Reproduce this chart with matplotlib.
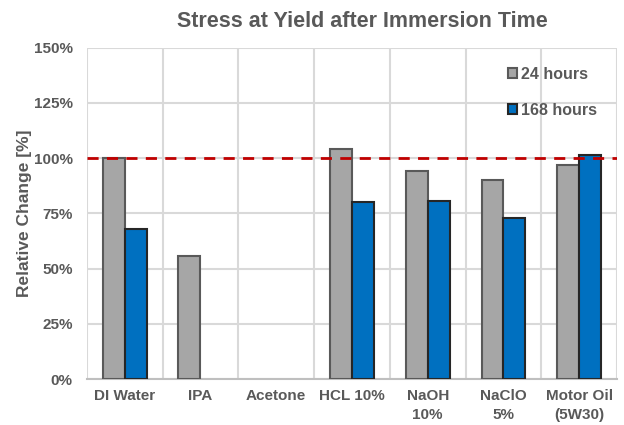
import numpy as np
import matplotlib
matplotlib.use("Agg")
import matplotlib.pyplot as plt
from matplotlib.ticker import FuncFormatter, MultipleLocator

plt.rcParams['font.family'] = ['Liberation Sans', 'DejaVu Sans']

categories = ["DI Water", "IPA", "Acetone", "HCL 10%", "NaOH\n10%", "NaClO\n5%", "Motor Oil\n(5W30)"]
hours_24 = [100.0, 55.6, np.nan, 104.0, 94.2, 90.0, 97.0]
hours_168 = [67.7, np.nan, np.nan, 80.1, 80.4, 73.0, 101.2]
series_labels = ["24 hours", "168 hours"]
reference_level = 100.0

txt = "#595959"
fig = plt.figure(figsize=(6.24, 4.25), dpi=100)
ax = fig.add_axes([0.139, 0.108, 0.85, 0.78])

x = np.arange(len(categories))
w = 0.29
ax.bar(x - w/2, hours_24, w, color="#a6a6a6", edgecolor="#595959", linewidth=1.5,
       label=series_labels[0], zorder=3)
ax.bar(x + w/2, hours_168, w, color="#0070c0", edgecolor="#262626", linewidth=1.5,
       label=series_labels[1], zorder=3)
ax.axhline(reference_level, color="#c00000", linestyle=(0, (4, 3)), linewidth=2, zorder=4)

ax.set_xlim(-0.5, len(categories) - 0.5)
ax.set_ylim(0, 150)
ax.yaxis.set_major_locator(MultipleLocator(25))
ax.yaxis.set_major_formatter(FuncFormatter(lambda v, p: f"{v:.0f}%"))
ax.set_xticks(x)
ax.set_xticklabels(categories, linespacing=1.45)
ax.set_xticks(np.arange(len(categories) + 1) - 0.5, minor=True)
ax.grid(True, axis="y", which="major", color="#d9d9d9", linewidth=1.5, zorder=0)
ax.grid(True, axis="x", which="minor", color="#d9d9d9", linewidth=1.5, zorder=0)
ax.grid(False, axis="x", which="major")
ax.tick_params(axis="both", which="both", length=0, labelcolor=txt, labelsize=11)
ax.tick_params(axis="x", pad=7)
ax.tick_params(axis="y", pad=10)
for lab in ax.get_xticklabels() + ax.get_yticklabels():
    lab.set_fontweight("bold")
for s in ["top", "right", "left"]:
    ax.spines[s].set_visible(False)
ax.spines["bottom"].set_color("#bfbfbf")
ax.spines["bottom"].set_linewidth(1.5)

ax.set_ylabel("Relative Change [%]", color=txt, fontsize=12.5, fontweight="bold", labelpad=1)
fig.text(0.58, 0.95, "Stress at Yield after Immersion Time", ha="center", va="center",
         color=txt, fontsize=15.5, fontweight="bold")

leg = ax.legend(loc="upper right", bbox_to_anchor=(0.99, 0.985), frameon=False,
                handlelength=0.6, handleheight=0.6, handletextpad=0.25,
                labelspacing=1.3, prop={"weight": "bold", "size": 11.5})
for t in leg.get_texts():
    t.set_color(txt)

fig.savefig("out.png", dpi=100)
